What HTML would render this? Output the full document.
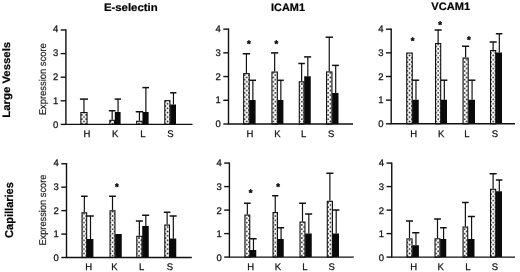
<!DOCTYPE html><html><head><meta charset="utf-8"><style>html,body{margin:0;padding:0;background:#fff}svg{display:block}</style></head><body><svg width="520" height="272" viewBox="0 0 520 272">
<defs><pattern id="dots" patternUnits="userSpaceOnUse" width="4.4" height="4.4" x="407.4" y="53.25"><rect width="4.4" height="4.4" fill="#fff"/><circle cx="2.2" cy="2.2" r="0.9" fill="#111"/><circle cx="0" cy="0" r="0.9" fill="#111"/><circle cx="4.4" cy="0" r="0.9" fill="#111"/><circle cx="0" cy="4.4" r="0.9" fill="#111"/><circle cx="4.4" cy="4.4" r="0.9" fill="#111"/></pattern></defs>
<rect width="520" height="272" fill="#fff"/>
<g font-family="'Liberation Sans', sans-serif" font-weight="bold" font-size="10.8" fill="#000" stroke="#000" stroke-width="0.2" text-rendering="geometricPrecision">
<text x="103.9" y="11.4" textLength="53.8" lengthAdjust="spacingAndGlyphs">E-selectin</text>
<text x="271.1" y="10.6" textLength="33.9" lengthAdjust="spacingAndGlyphs">ICAM1</text>
<text x="431.3" y="10.4" textLength="38.8" lengthAdjust="spacingAndGlyphs">VCAM1</text>
<text transform="translate(10.3,117.8) rotate(-90)" textLength="76" lengthAdjust="spacingAndGlyphs">Large Vessels</text>
<text transform="translate(13.0,237.9) rotate(-90)" font-size="11.4" textLength="55.8" lengthAdjust="spacingAndGlyphs">Capillaries</text>
</g>
<g font-family="'Liberation Sans', sans-serif" font-size="9.8" fill="#111" stroke="#111" stroke-width="0.15" text-rendering="geometricPrecision">
<text transform="translate(46.3,115.2) rotate(-90)" textLength="72" lengthAdjust="spacingAndGlyphs">Expression score</text>
<text transform="translate(46.3,245.6) rotate(-90)" textLength="71" lengthAdjust="spacingAndGlyphs">Expression score</text>
</g>
<path d="M83.95 112.00V99.10" stroke="#111" stroke-width="1.2" fill="none"/><path d="M79.90 99.10H88.00" stroke="#111" stroke-width="1.5" fill="none"/>
<rect x="80.85" y="112.55" width="6.20" height="11.85" fill="url(#dots)" stroke="#111" stroke-width="1.1"/>
<path d="M112.17 119.75V110.75" stroke="#111" stroke-width="1.2" fill="none"/><path d="M108.85 110.75H115.50" stroke="#111" stroke-width="1.5" fill="none"/>
<path d="M118.05 112.00V99.10" stroke="#111" stroke-width="1.2" fill="none"/><path d="M114.70 99.10H121.00" stroke="#111" stroke-width="1.5" fill="none"/>
<rect x="109.80" y="120.30" width="4.75" height="4.10" fill="url(#dots)" stroke="#111" stroke-width="1.1"/>
<rect x="114.80" y="112.00" width="5.80" height="12.40" fill="#0a0a0a"/>
<path d="M139.43 120.75V111.75" stroke="#111" stroke-width="1.2" fill="none"/><path d="M135.70 111.75H143.15" stroke="#111" stroke-width="1.5" fill="none"/>
<path d="M145.88 112.00V87.60" stroke="#111" stroke-width="1.2" fill="none"/><path d="M142.35 87.60H149.00" stroke="#111" stroke-width="1.5" fill="none"/>
<rect x="136.65" y="121.30" width="5.55" height="3.10" fill="url(#dots)" stroke="#111" stroke-width="1.1"/>
<rect x="142.45" y="112.00" width="6.15" height="12.40" fill="#0a0a0a"/>
<path d="M173.45 104.50V92.80" stroke="#111" stroke-width="1.2" fill="none"/><path d="M170.10 92.80H176.40" stroke="#111" stroke-width="1.5" fill="none"/>
<rect x="164.80" y="100.65" width="5.15" height="23.75" fill="url(#dots)" stroke="#111" stroke-width="1.1"/>
<rect x="170.20" y="104.50" width="5.80" height="19.90" fill="#0a0a0a"/>
<path d="M65.90 29.35V124.40M65.25 124.40H192.50" stroke="#111" stroke-width="1.4" fill="none"/>
<path d="M60.70 124.40H65.90" stroke="#111" stroke-width="1.4"/>
<text x="58.20" y="127.50" font-family="'Liberation Sans', sans-serif" font-size="9.5" text-anchor="end" fill="#111" stroke="#111" stroke-width="0.25" text-rendering="geometricPrecision">0</text>
<path d="M60.70 100.80H65.90" stroke="#111" stroke-width="1.4"/>
<text x="58.20" y="103.72" font-family="'Liberation Sans', sans-serif" font-size="9.5" text-anchor="end" fill="#111" stroke="#111" stroke-width="0.25" text-rendering="geometricPrecision">1</text>
<path d="M60.70 77.20H65.90" stroke="#111" stroke-width="1.4"/>
<text x="58.20" y="79.95" font-family="'Liberation Sans', sans-serif" font-size="9.5" text-anchor="end" fill="#111" stroke="#111" stroke-width="0.25" text-rendering="geometricPrecision">2</text>
<path d="M60.70 53.60H65.90" stroke="#111" stroke-width="1.4"/>
<text x="58.20" y="56.17" font-family="'Liberation Sans', sans-serif" font-size="9.5" text-anchor="end" fill="#111" stroke="#111" stroke-width="0.25" text-rendering="geometricPrecision">3</text>
<path d="M60.70 30.00H65.90" stroke="#111" stroke-width="1.4"/>
<text x="58.20" y="32.40" font-family="'Liberation Sans', sans-serif" font-size="9.5" text-anchor="end" fill="#111" stroke="#111" stroke-width="0.25" text-rendering="geometricPrecision">4</text>
<text x="86.90" y="136.60" font-family="'Liberation Sans', sans-serif" font-size="9.5" text-anchor="middle" fill="#111" stroke="#111" stroke-width="0.25" text-rendering="geometricPrecision">H</text>
<text x="115.10" y="136.60" font-family="'Liberation Sans', sans-serif" font-size="9.5" text-anchor="middle" fill="#111" stroke="#111" stroke-width="0.25" text-rendering="geometricPrecision">K</text>
<text x="143.00" y="136.60" font-family="'Liberation Sans', sans-serif" font-size="9.5" text-anchor="middle" fill="#111" stroke="#111" stroke-width="0.25" text-rendering="geometricPrecision">L</text>
<text x="170.50" y="136.60" font-family="'Liberation Sans', sans-serif" font-size="9.5" text-anchor="middle" fill="#111" stroke="#111" stroke-width="0.25" text-rendering="geometricPrecision">S</text>
<path d="M246.43 73.10V53.75" stroke="#111" stroke-width="1.2" fill="none"/><path d="M242.70 53.75H250.15" stroke="#111" stroke-width="1.5" fill="none"/>
<path d="M252.88 100.00V80.30" stroke="#111" stroke-width="1.2" fill="none"/><path d="M249.35 80.30H256.00" stroke="#111" stroke-width="1.5" fill="none"/>
<rect x="243.65" y="73.65" width="5.55" height="50.35" fill="url(#dots)" stroke="#111" stroke-width="1.1"/>
<rect x="249.45" y="100.00" width="6.15" height="24.00" fill="#0a0a0a"/>
<path d="M274.65 71.50V52.90" stroke="#111" stroke-width="1.2" fill="none"/><path d="M271.00 52.90H278.30" stroke="#111" stroke-width="1.5" fill="none"/>
<path d="M280.85 100.00V80.30" stroke="#111" stroke-width="1.2" fill="none"/><path d="M277.50 80.30H283.80" stroke="#111" stroke-width="1.5" fill="none"/>
<rect x="271.95" y="72.05" width="5.40" height="51.95" fill="url(#dots)" stroke="#111" stroke-width="1.1"/>
<rect x="277.60" y="100.00" width="5.80" height="24.00" fill="#0a0a0a"/>
<path d="M301.62 81.25V63.50" stroke="#111" stroke-width="1.2" fill="none"/><path d="M298.35 63.50H304.90" stroke="#111" stroke-width="1.5" fill="none"/>
<path d="M307.82 76.25V56.90" stroke="#111" stroke-width="1.2" fill="none"/><path d="M304.10 56.90H311.15" stroke="#111" stroke-width="1.5" fill="none"/>
<rect x="299.30" y="81.80" width="4.65" height="42.20" fill="url(#dots)" stroke="#111" stroke-width="1.1"/>
<rect x="304.20" y="76.25" width="6.55" height="47.75" fill="#0a0a0a"/>
<path d="M329.25 71.40V37.20" stroke="#111" stroke-width="1.2" fill="none"/><path d="M325.60 37.20H332.90" stroke="#111" stroke-width="1.5" fill="none"/>
<path d="M335.70 93.00V65.40" stroke="#111" stroke-width="1.2" fill="none"/><path d="M332.10 65.40H338.90" stroke="#111" stroke-width="1.5" fill="none"/>
<rect x="326.55" y="71.95" width="5.40" height="52.05" fill="url(#dots)" stroke="#111" stroke-width="1.1"/>
<rect x="332.20" y="93.00" width="6.30" height="31.00" fill="#0a0a0a"/>
<path d="M228.50 28.47V124.00M227.85 124.00H353.00" stroke="#111" stroke-width="1.4" fill="none"/>
<path d="M223.30 124.00H228.50" stroke="#111" stroke-width="1.4"/>
<text x="220.80" y="127.20" font-family="'Liberation Sans', sans-serif" font-size="9.5" text-anchor="end" fill="#111" stroke="#111" stroke-width="0.25" text-rendering="geometricPrecision">0</text>
<path d="M223.30 100.28H228.50" stroke="#111" stroke-width="1.4"/>
<text x="220.80" y="103.45" font-family="'Liberation Sans', sans-serif" font-size="9.5" text-anchor="end" fill="#111" stroke="#111" stroke-width="0.25" text-rendering="geometricPrecision">1</text>
<path d="M223.30 76.56H228.50" stroke="#111" stroke-width="1.4"/>
<text x="220.80" y="79.70" font-family="'Liberation Sans', sans-serif" font-size="9.5" text-anchor="end" fill="#111" stroke="#111" stroke-width="0.25" text-rendering="geometricPrecision">2</text>
<path d="M223.30 52.84H228.50" stroke="#111" stroke-width="1.4"/>
<text x="220.80" y="55.95" font-family="'Liberation Sans', sans-serif" font-size="9.5" text-anchor="end" fill="#111" stroke="#111" stroke-width="0.25" text-rendering="geometricPrecision">3</text>
<path d="M223.30 29.12H228.50" stroke="#111" stroke-width="1.4"/>
<text x="220.80" y="32.20" font-family="'Liberation Sans', sans-serif" font-size="9.5" text-anchor="end" fill="#111" stroke="#111" stroke-width="0.25" text-rendering="geometricPrecision">4</text>
<text x="250.00" y="136.60" font-family="'Liberation Sans', sans-serif" font-size="9.5" text-anchor="middle" fill="#111" stroke="#111" stroke-width="0.25" text-rendering="geometricPrecision">H</text>
<text x="277.50" y="136.60" font-family="'Liberation Sans', sans-serif" font-size="9.5" text-anchor="middle" fill="#111" stroke="#111" stroke-width="0.25" text-rendering="geometricPrecision">K</text>
<text x="303.75" y="136.60" font-family="'Liberation Sans', sans-serif" font-size="9.5" text-anchor="middle" fill="#111" stroke="#111" stroke-width="0.25" text-rendering="geometricPrecision">L</text>
<text x="331.25" y="136.60" font-family="'Liberation Sans', sans-serif" font-size="9.5" text-anchor="middle" fill="#111" stroke="#111" stroke-width="0.25" text-rendering="geometricPrecision">S</text>
<text x="248.90" y="47.45" font-family="'Liberation Sans', sans-serif" font-size="9.5" font-weight="bold" text-anchor="middle" fill="#000" stroke="#000" stroke-width="0.4" text-rendering="geometricPrecision">*</text>
<text x="276.40" y="47.30" font-family="'Liberation Sans', sans-serif" font-size="9.5" font-weight="bold" text-anchor="middle" fill="#000" stroke="#000" stroke-width="0.4" text-rendering="geometricPrecision">*</text>
<path d="M415.97 99.75V80.20" stroke="#111" stroke-width="1.2" fill="none"/><path d="M412.40 80.20H419.15" stroke="#111" stroke-width="1.5" fill="none"/>
<rect x="406.75" y="53.05" width="5.50" height="70.75" fill="url(#dots)" stroke="#111" stroke-width="1.1"/>
<rect x="412.50" y="99.75" width="6.25" height="24.05" fill="#0a0a0a"/>
<path d="M438.12 43.00V30.00" stroke="#111" stroke-width="1.2" fill="none"/><path d="M434.60 30.00H441.65" stroke="#111" stroke-width="1.5" fill="none"/>
<path d="M444.32 99.75V80.20" stroke="#111" stroke-width="1.2" fill="none"/><path d="M440.85 80.20H447.40" stroke="#111" stroke-width="1.5" fill="none"/>
<rect x="435.55" y="43.55" width="5.15" height="80.25" fill="url(#dots)" stroke="#111" stroke-width="1.1"/>
<rect x="440.95" y="99.75" width="6.05" height="24.05" fill="#0a0a0a"/>
<path d="M465.62 57.50V46.25" stroke="#111" stroke-width="1.2" fill="none"/><path d="M462.10 46.25H469.15" stroke="#111" stroke-width="1.5" fill="none"/>
<path d="M472.07 99.75V80.20" stroke="#111" stroke-width="1.2" fill="none"/><path d="M468.35 80.20H475.40" stroke="#111" stroke-width="1.5" fill="none"/>
<rect x="463.05" y="58.05" width="5.15" height="65.75" fill="url(#dots)" stroke="#111" stroke-width="1.1"/>
<rect x="468.45" y="99.75" width="6.55" height="24.05" fill="#0a0a0a"/>
<path d="M493.12 50.00V42.00" stroke="#111" stroke-width="1.2" fill="none"/><path d="M489.60 42.00H496.65" stroke="#111" stroke-width="1.5" fill="none"/>
<path d="M499.32 52.50V33.75" stroke="#111" stroke-width="1.2" fill="none"/><path d="M495.85 33.75H502.40" stroke="#111" stroke-width="1.5" fill="none"/>
<rect x="490.55" y="50.55" width="5.15" height="73.25" fill="url(#dots)" stroke="#111" stroke-width="1.1"/>
<rect x="495.95" y="52.50" width="6.05" height="71.30" fill="#0a0a0a"/>
<path d="M391.20 28.55V123.80M390.55 123.80H515.00" stroke="#111" stroke-width="1.4" fill="none"/>
<path d="M386.00 123.80H391.20" stroke="#111" stroke-width="1.4"/>
<text x="383.50" y="127.05" font-family="'Liberation Sans', sans-serif" font-size="9.5" text-anchor="end" fill="#111" stroke="#111" stroke-width="0.25" text-rendering="geometricPrecision">0</text>
<path d="M386.00 100.15H391.20" stroke="#111" stroke-width="1.4"/>
<text x="383.50" y="103.34" font-family="'Liberation Sans', sans-serif" font-size="9.5" text-anchor="end" fill="#111" stroke="#111" stroke-width="0.25" text-rendering="geometricPrecision">1</text>
<path d="M386.00 76.50H391.20" stroke="#111" stroke-width="1.4"/>
<text x="383.50" y="79.62" font-family="'Liberation Sans', sans-serif" font-size="9.5" text-anchor="end" fill="#111" stroke="#111" stroke-width="0.25" text-rendering="geometricPrecision">2</text>
<path d="M386.00 52.85H391.20" stroke="#111" stroke-width="1.4"/>
<text x="383.50" y="55.91" font-family="'Liberation Sans', sans-serif" font-size="9.5" text-anchor="end" fill="#111" stroke="#111" stroke-width="0.25" text-rendering="geometricPrecision">3</text>
<path d="M386.00 29.20H391.20" stroke="#111" stroke-width="1.4"/>
<text x="383.50" y="32.20" font-family="'Liberation Sans', sans-serif" font-size="9.5" text-anchor="end" fill="#111" stroke="#111" stroke-width="0.25" text-rendering="geometricPrecision">4</text>
<text x="413.75" y="136.60" font-family="'Liberation Sans', sans-serif" font-size="9.5" text-anchor="middle" fill="#111" stroke="#111" stroke-width="0.25" text-rendering="geometricPrecision">H</text>
<text x="441.25" y="136.60" font-family="'Liberation Sans', sans-serif" font-size="9.5" text-anchor="middle" fill="#111" stroke="#111" stroke-width="0.25" text-rendering="geometricPrecision">K</text>
<text x="467.00" y="136.60" font-family="'Liberation Sans', sans-serif" font-size="9.5" text-anchor="middle" fill="#111" stroke="#111" stroke-width="0.25" text-rendering="geometricPrecision">L</text>
<text x="495.00" y="136.60" font-family="'Liberation Sans', sans-serif" font-size="9.5" text-anchor="middle" fill="#111" stroke="#111" stroke-width="0.25" text-rendering="geometricPrecision">S</text>
<text x="412.50" y="43.95" font-family="'Liberation Sans', sans-serif" font-size="9.5" font-weight="bold" text-anchor="middle" fill="#000" stroke="#000" stroke-width="0.4" text-rendering="geometricPrecision">*</text>
<text x="440.00" y="28.20" font-family="'Liberation Sans', sans-serif" font-size="9.5" font-weight="bold" text-anchor="middle" fill="#000" stroke="#000" stroke-width="0.4" text-rendering="geometricPrecision">*</text>
<text x="468.75" y="43.20" font-family="'Liberation Sans', sans-serif" font-size="9.5" font-weight="bold" text-anchor="middle" fill="#000" stroke="#000" stroke-width="0.4" text-rendering="geometricPrecision">*</text>
<path d="M84.35 212.25V196.25" stroke="#111" stroke-width="1.2" fill="none"/><path d="M81.10 196.25H87.60" stroke="#111" stroke-width="1.5" fill="none"/>
<path d="M90.50 239.00V216.00" stroke="#111" stroke-width="1.2" fill="none"/><path d="M86.80 216.00H93.80" stroke="#111" stroke-width="1.5" fill="none"/>
<rect x="82.05" y="212.80" width="4.60" height="44.70" fill="url(#dots)" stroke="#111" stroke-width="1.1"/>
<rect x="86.90" y="239.00" width="6.50" height="18.50" fill="#0a0a0a"/>
<path d="M112.50 210.25V196.25" stroke="#111" stroke-width="1.2" fill="none"/><path d="M109.10 196.25H115.90" stroke="#111" stroke-width="1.5" fill="none"/>
<rect x="110.05" y="210.80" width="4.90" height="46.70" fill="url(#dots)" stroke="#111" stroke-width="1.1"/>
<rect x="115.20" y="234.00" width="6.55" height="23.50" fill="#0a0a0a"/>
<path d="M139.38 235.75V221.00" stroke="#111" stroke-width="1.2" fill="none"/><path d="M135.85 221.00H142.90" stroke="#111" stroke-width="1.5" fill="none"/>
<path d="M145.82 226.00V215.25" stroke="#111" stroke-width="1.2" fill="none"/><path d="M142.10 215.25H149.15" stroke="#111" stroke-width="1.5" fill="none"/>
<rect x="136.80" y="236.30" width="5.15" height="21.20" fill="url(#dots)" stroke="#111" stroke-width="1.1"/>
<rect x="142.20" y="226.00" width="6.55" height="31.50" fill="#0a0a0a"/>
<path d="M167.12 224.50V212.25" stroke="#111" stroke-width="1.2" fill="none"/><path d="M163.85 212.25H170.40" stroke="#111" stroke-width="1.5" fill="none"/>
<path d="M173.32 238.50V216.00" stroke="#111" stroke-width="1.2" fill="none"/><path d="M169.60 216.00H176.65" stroke="#111" stroke-width="1.5" fill="none"/>
<rect x="164.80" y="225.05" width="4.65" height="32.45" fill="url(#dots)" stroke="#111" stroke-width="1.1"/>
<rect x="169.70" y="238.50" width="6.55" height="19.00" fill="#0a0a0a"/>
<path d="M66.50 163.09V257.50M65.85 257.50H191.80" stroke="#111" stroke-width="1.4" fill="none"/>
<path d="M61.30 257.50H66.50" stroke="#111" stroke-width="1.4"/>
<text x="58.80" y="261.05" font-family="'Liberation Sans', sans-serif" font-size="9.5" text-anchor="end" fill="#111" stroke="#111" stroke-width="0.25" text-rendering="geometricPrecision">0</text>
<path d="M61.30 234.06H66.50" stroke="#111" stroke-width="1.4"/>
<text x="58.80" y="237.39" font-family="'Liberation Sans', sans-serif" font-size="9.5" text-anchor="end" fill="#111" stroke="#111" stroke-width="0.25" text-rendering="geometricPrecision">1</text>
<path d="M61.30 210.62H66.50" stroke="#111" stroke-width="1.4"/>
<text x="58.80" y="213.73" font-family="'Liberation Sans', sans-serif" font-size="9.5" text-anchor="end" fill="#111" stroke="#111" stroke-width="0.25" text-rendering="geometricPrecision">2</text>
<path d="M61.30 187.18H66.50" stroke="#111" stroke-width="1.4"/>
<text x="58.80" y="190.06" font-family="'Liberation Sans', sans-serif" font-size="9.5" text-anchor="end" fill="#111" stroke="#111" stroke-width="0.25" text-rendering="geometricPrecision">3</text>
<path d="M61.30 163.74H66.50" stroke="#111" stroke-width="1.4"/>
<text x="58.80" y="166.40" font-family="'Liberation Sans', sans-serif" font-size="9.5" text-anchor="end" fill="#111" stroke="#111" stroke-width="0.25" text-rendering="geometricPrecision">4</text>
<text x="88.70" y="270.20" font-family="'Liberation Sans', sans-serif" font-size="9.5" text-anchor="middle" fill="#111" stroke="#111" stroke-width="0.25" text-rendering="geometricPrecision">H</text>
<text x="114.50" y="270.20" font-family="'Liberation Sans', sans-serif" font-size="9.5" text-anchor="middle" fill="#111" stroke="#111" stroke-width="0.25" text-rendering="geometricPrecision">K</text>
<text x="141.75" y="270.20" font-family="'Liberation Sans', sans-serif" font-size="9.5" text-anchor="middle" fill="#111" stroke="#111" stroke-width="0.25" text-rendering="geometricPrecision">L</text>
<text x="170.00" y="270.20" font-family="'Liberation Sans', sans-serif" font-size="9.5" text-anchor="middle" fill="#111" stroke="#111" stroke-width="0.25" text-rendering="geometricPrecision">S</text>
<text x="116.75" y="190.20" font-family="'Liberation Sans', sans-serif" font-size="9.5" font-weight="bold" text-anchor="middle" fill="#000" stroke="#000" stroke-width="0.4" text-rendering="geometricPrecision">*</text>
<path d="M247.35 214.50V203.25" stroke="#111" stroke-width="1.2" fill="none"/><path d="M244.00 203.25H250.70" stroke="#111" stroke-width="1.5" fill="none"/>
<path d="M253.47 250.00V238.75" stroke="#111" stroke-width="1.2" fill="none"/><path d="M249.90 238.75H256.65" stroke="#111" stroke-width="1.5" fill="none"/>
<rect x="244.95" y="215.05" width="4.80" height="42.05" fill="url(#dots)" stroke="#111" stroke-width="1.1"/>
<rect x="250.00" y="250.00" width="6.25" height="7.10" fill="#0a0a0a"/>
<path d="M275.25 212.00V195.75" stroke="#111" stroke-width="1.2" fill="none"/><path d="M272.10 195.75H278.40" stroke="#111" stroke-width="1.5" fill="none"/>
<path d="M281.07 239.00V227.75" stroke="#111" stroke-width="1.2" fill="none"/><path d="M277.60 227.75H284.15" stroke="#111" stroke-width="1.5" fill="none"/>
<rect x="273.05" y="212.55" width="4.40" height="44.55" fill="url(#dots)" stroke="#111" stroke-width="1.1"/>
<rect x="277.70" y="239.00" width="6.05" height="18.10" fill="#0a0a0a"/>
<path d="M302.50 221.50V203.25" stroke="#111" stroke-width="1.2" fill="none"/><path d="M299.10 203.25H305.90" stroke="#111" stroke-width="1.5" fill="none"/>
<path d="M308.82 233.50V214.00" stroke="#111" stroke-width="1.2" fill="none"/><path d="M305.10 214.00H312.15" stroke="#111" stroke-width="1.5" fill="none"/>
<rect x="300.05" y="222.05" width="4.90" height="35.05" fill="url(#dots)" stroke="#111" stroke-width="1.1"/>
<rect x="305.20" y="233.50" width="6.55" height="23.60" fill="#0a0a0a"/>
<path d="M329.88 200.75V173.25" stroke="#111" stroke-width="1.2" fill="none"/><path d="M326.35 173.25H333.40" stroke="#111" stroke-width="1.5" fill="none"/>
<path d="M336.20 233.50V210.00" stroke="#111" stroke-width="1.2" fill="none"/><path d="M332.60 210.00H339.40" stroke="#111" stroke-width="1.5" fill="none"/>
<rect x="327.30" y="201.30" width="5.15" height="55.80" fill="url(#dots)" stroke="#111" stroke-width="1.1"/>
<rect x="332.70" y="233.50" width="6.30" height="23.60" fill="#0a0a0a"/>
<path d="M229.40 162.45V257.10M228.75 257.10H353.75" stroke="#111" stroke-width="1.4" fill="none"/>
<path d="M224.20 257.10H229.40" stroke="#111" stroke-width="1.4"/>
<text x="221.70" y="260.70" font-family="'Liberation Sans', sans-serif" font-size="9.5" text-anchor="end" fill="#111" stroke="#111" stroke-width="0.25" text-rendering="geometricPrecision">0</text>
<path d="M224.20 233.60H229.40" stroke="#111" stroke-width="1.4"/>
<text x="221.70" y="237.10" font-family="'Liberation Sans', sans-serif" font-size="9.5" text-anchor="end" fill="#111" stroke="#111" stroke-width="0.25" text-rendering="geometricPrecision">1</text>
<path d="M224.20 210.10H229.40" stroke="#111" stroke-width="1.4"/>
<text x="221.70" y="213.50" font-family="'Liberation Sans', sans-serif" font-size="9.5" text-anchor="end" fill="#111" stroke="#111" stroke-width="0.25" text-rendering="geometricPrecision">2</text>
<path d="M224.20 186.60H229.40" stroke="#111" stroke-width="1.4"/>
<text x="221.70" y="189.90" font-family="'Liberation Sans', sans-serif" font-size="9.5" text-anchor="end" fill="#111" stroke="#111" stroke-width="0.25" text-rendering="geometricPrecision">3</text>
<path d="M224.20 163.10H229.40" stroke="#111" stroke-width="1.4"/>
<text x="221.70" y="166.30" font-family="'Liberation Sans', sans-serif" font-size="9.5" text-anchor="end" fill="#111" stroke="#111" stroke-width="0.25" text-rendering="geometricPrecision">4</text>
<text x="250.60" y="270.20" font-family="'Liberation Sans', sans-serif" font-size="9.5" text-anchor="middle" fill="#111" stroke="#111" stroke-width="0.25" text-rendering="geometricPrecision">H</text>
<text x="278.00" y="270.20" font-family="'Liberation Sans', sans-serif" font-size="9.5" text-anchor="middle" fill="#111" stroke="#111" stroke-width="0.25" text-rendering="geometricPrecision">K</text>
<text x="305.00" y="270.20" font-family="'Liberation Sans', sans-serif" font-size="9.5" text-anchor="middle" fill="#111" stroke="#111" stroke-width="0.25" text-rendering="geometricPrecision">L</text>
<text x="331.75" y="270.20" font-family="'Liberation Sans', sans-serif" font-size="9.5" text-anchor="middle" fill="#111" stroke="#111" stroke-width="0.25" text-rendering="geometricPrecision">S</text>
<text x="250.50" y="195.95" font-family="'Liberation Sans', sans-serif" font-size="9.5" font-weight="bold" text-anchor="middle" fill="#000" stroke="#000" stroke-width="0.4" text-rendering="geometricPrecision">*</text>
<text x="278.00" y="190.20" font-family="'Liberation Sans', sans-serif" font-size="9.5" font-weight="bold" text-anchor="middle" fill="#000" stroke="#000" stroke-width="0.4" text-rendering="geometricPrecision">*</text>
<path d="M409.50 238.40V221.00" stroke="#111" stroke-width="1.2" fill="none"/><path d="M406.00 221.00H413.00" stroke="#111" stroke-width="1.5" fill="none"/>
<path d="M415.95 245.25V232.75" stroke="#111" stroke-width="1.2" fill="none"/><path d="M412.20 232.75H419.30" stroke="#111" stroke-width="1.5" fill="none"/>
<rect x="406.95" y="238.95" width="5.10" height="18.15" fill="url(#dots)" stroke="#111" stroke-width="1.1"/>
<rect x="412.30" y="245.25" width="6.60" height="11.85" fill="#0a0a0a"/>
<path d="M437.50 238.25V219.00" stroke="#111" stroke-width="1.2" fill="none"/><path d="M434.10 219.00H440.90" stroke="#111" stroke-width="1.5" fill="none"/>
<path d="M443.57 239.00V227.75" stroke="#111" stroke-width="1.2" fill="none"/><path d="M440.10 227.75H446.65" stroke="#111" stroke-width="1.5" fill="none"/>
<rect x="435.05" y="238.80" width="4.90" height="18.30" fill="url(#dots)" stroke="#111" stroke-width="1.1"/>
<rect x="440.20" y="239.00" width="6.05" height="18.10" fill="#0a0a0a"/>
<path d="M465.38 226.50V202.50" stroke="#111" stroke-width="1.2" fill="none"/><path d="M462.10 202.50H468.65" stroke="#111" stroke-width="1.5" fill="none"/>
<path d="M471.57 239.00V216.50" stroke="#111" stroke-width="1.2" fill="none"/><path d="M467.85 216.50H474.90" stroke="#111" stroke-width="1.5" fill="none"/>
<rect x="463.05" y="227.05" width="4.65" height="30.05" fill="url(#dots)" stroke="#111" stroke-width="1.1"/>
<rect x="467.95" y="239.00" width="6.55" height="18.10" fill="#0a0a0a"/>
<path d="M493.12 188.75V173.75" stroke="#111" stroke-width="1.2" fill="none"/><path d="M489.60 173.75H496.65" stroke="#111" stroke-width="1.5" fill="none"/>
<path d="M499.32 191.25V180.00" stroke="#111" stroke-width="1.2" fill="none"/><path d="M495.85 180.00H502.40" stroke="#111" stroke-width="1.5" fill="none"/>
<rect x="490.55" y="189.30" width="5.15" height="67.80" fill="url(#dots)" stroke="#111" stroke-width="1.1"/>
<rect x="495.95" y="191.25" width="6.05" height="65.85" fill="#0a0a0a"/>
<path d="M391.75 162.45V257.10M391.10 257.10H515.00" stroke="#111" stroke-width="1.4" fill="none"/>
<path d="M386.55 257.10H391.75" stroke="#111" stroke-width="1.4"/>
<text x="384.05" y="260.70" font-family="'Liberation Sans', sans-serif" font-size="9.5" text-anchor="end" fill="#111" stroke="#111" stroke-width="0.25" text-rendering="geometricPrecision">0</text>
<path d="M386.55 233.60H391.75" stroke="#111" stroke-width="1.4"/>
<text x="384.05" y="237.10" font-family="'Liberation Sans', sans-serif" font-size="9.5" text-anchor="end" fill="#111" stroke="#111" stroke-width="0.25" text-rendering="geometricPrecision">1</text>
<path d="M386.55 210.10H391.75" stroke="#111" stroke-width="1.4"/>
<text x="384.05" y="213.50" font-family="'Liberation Sans', sans-serif" font-size="9.5" text-anchor="end" fill="#111" stroke="#111" stroke-width="0.25" text-rendering="geometricPrecision">2</text>
<path d="M386.55 186.60H391.75" stroke="#111" stroke-width="1.4"/>
<text x="384.05" y="189.90" font-family="'Liberation Sans', sans-serif" font-size="9.5" text-anchor="end" fill="#111" stroke="#111" stroke-width="0.25" text-rendering="geometricPrecision">3</text>
<path d="M386.55 163.10H391.75" stroke="#111" stroke-width="1.4"/>
<text x="384.05" y="166.30" font-family="'Liberation Sans', sans-serif" font-size="9.5" text-anchor="end" fill="#111" stroke="#111" stroke-width="0.25" text-rendering="geometricPrecision">4</text>
<text x="413.60" y="270.20" font-family="'Liberation Sans', sans-serif" font-size="9.5" text-anchor="middle" fill="#111" stroke="#111" stroke-width="0.25" text-rendering="geometricPrecision">H</text>
<text x="440.75" y="270.20" font-family="'Liberation Sans', sans-serif" font-size="9.5" text-anchor="middle" fill="#111" stroke="#111" stroke-width="0.25" text-rendering="geometricPrecision">K</text>
<text x="468.00" y="270.20" font-family="'Liberation Sans', sans-serif" font-size="9.5" text-anchor="middle" fill="#111" stroke="#111" stroke-width="0.25" text-rendering="geometricPrecision">L</text>
<text x="495.00" y="270.20" font-family="'Liberation Sans', sans-serif" font-size="9.5" text-anchor="middle" fill="#111" stroke="#111" stroke-width="0.25" text-rendering="geometricPrecision">S</text>
</svg></body></html>
